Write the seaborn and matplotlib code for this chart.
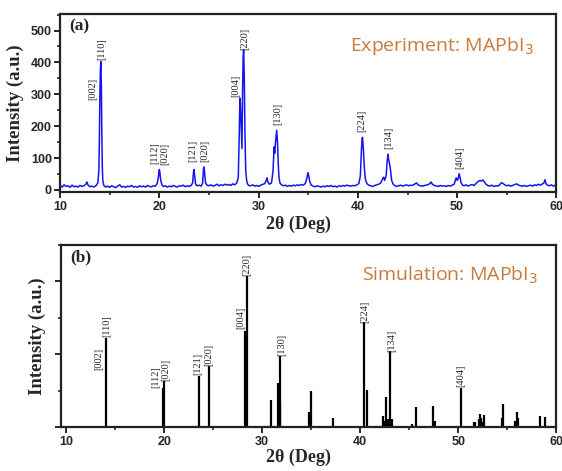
import matplotlib
matplotlib.use("Agg")
import matplotlib.pyplot as plt
import seaborn as sns
import pandas as pd
from matplotlib.ticker import MultipleLocator

exp_2theta = [
    10.0, 10.2, 10.4, 10.6, 10.8, 11.0, 11.2, 11.4, 11.6, 11.8, 12.0, 12.2, 12.4, 12.6, 12.7, 12.8,
    13.0, 13.2, 13.4, 13.6, 13.8, 13.9, 13.95, 14.0, 14.05, 14.1, 14.15, 14.2, 14.25, 14.3, 14.4,
    14.6, 14.8, 15.0, 15.2, 15.4, 15.6, 15.8, 16.0, 16.2, 16.4, 16.6, 16.8, 17.0, 17.2, 17.4, 17.6,
    17.8, 18.0, 18.2, 18.4, 18.6, 18.8, 19.0, 19.2, 19.4, 19.6, 19.8, 19.9, 19.95, 20.0, 20.05, 20.1,
    20.2, 20.3, 20.4, 20.6, 20.8, 21.0, 21.2, 21.4, 21.6, 21.8, 22.0, 22.2, 22.4, 22.6, 22.8, 23.0,
    23.2, 23.35, 23.45, 23.5, 23.55, 23.65, 23.8, 24.0, 24.2, 24.35, 24.45, 24.5, 24.55, 24.65, 24.8,
    25.0, 25.2, 25.4, 25.6, 25.8, 26.0, 26.2, 26.4, 26.6, 26.8, 27.0, 27.2, 27.4, 27.6, 27.8, 27.95,
    28.05, 28.1, 28.13, 28.2, 28.27, 28.32, 28.38, 28.44, 28.49, 28.55, 28.62, 28.7, 28.8, 28.9, 29.0,
    29.2, 29.4, 29.6, 29.8, 30.0, 30.2, 30.4, 30.6, 30.75, 30.84, 30.95, 31.1, 31.3, 31.45, 31.56,
    31.62, 31.7, 31.82, 31.9, 31.98, 32.05, 32.15, 32.3, 32.5, 32.7, 32.9, 33.1, 33.3, 33.5, 33.7,
    33.9, 34.1, 34.3, 34.5, 34.7, 34.85, 34.96, 35.05, 35.15, 35.3, 35.5, 35.7, 35.9, 36.1, 36.3,
    36.5, 36.7, 36.9, 37.1, 37.3, 37.5, 37.7, 37.9, 38.1, 38.3, 38.5, 38.7, 38.9, 39.1, 39.3, 39.5,
    39.7, 39.9, 40.1, 40.25, 40.35, 40.42, 40.47, 40.55, 40.65, 40.75, 40.9, 41.1, 41.3, 41.5, 41.7,
    41.9, 42.1, 42.3, 42.5, 42.6, 42.7, 42.85, 42.95, 43.03, 43.1, 43.2, 43.3, 43.4, 43.55, 43.7,
    43.9, 44.1, 44.3, 44.5, 44.7, 44.9, 45.1, 45.3, 45.5, 45.7, 45.9, 46.1, 46.3, 46.5, 46.7, 46.9,
    47.1, 47.25, 47.37, 47.5, 47.7, 47.9, 48.1, 48.3, 48.5, 48.7, 48.9, 49.1, 49.3, 49.5, 49.7, 49.9,
    50.0, 50.1, 50.2, 50.3, 50.4, 50.55, 50.7, 50.9, 51.1, 51.3, 51.5, 51.7, 51.9, 52.1, 52.3, 52.45,
    52.6, 52.75, 52.9, 53.1, 53.3, 53.5, 53.7, 53.9, 54.1, 54.3, 54.45, 54.6, 54.8, 55.0, 55.2, 55.4,
    55.6, 55.8, 56.0, 56.2, 56.4, 56.6, 56.8, 57.0, 57.2, 57.4, 57.6, 57.8, 58.0, 58.2, 58.4, 58.6,
    58.75, 58.85, 58.95, 59.1, 59.3, 59.5, 59.7, 59.9, 60.0,
]
exp_intensity = [
    14, 9, 16, 11, 13, 8, 15, 10, 12, 9, 14, 11, 13, 18, 25, 16,
    10, 12, 9, 13, 22, 60, 150, 280, 370, 403, 330, 180, 70, 30, 14,
    9, 12, 8, 13, 10, 7, 12, 16, 9, 11, 8, 12, 10, 14, 9, 11,
    8, 13, 10, 12, 9, 14, 11, 10, 13, 12, 22, 40, 58, 64, 55, 38,
    22, 14, 11, 13, 9, 12, 10, 14, 11, 9, 13, 12, 15, 10, 13, 11,
    14, 22, 60, 64, 45, 18, 13, 15, 12, 20, 68, 72, 55, 22, 15,
    13, 16, 12, 14, 18, 13, 16, 14, 18, 15, 17, 14, 19, 16, 22, 40,
    180, 270, 288, 240, 170, 130, 300, 420, 440, 360, 180, 60, 28, 18, 14,
    13, 16, 12, 14, 11, 15, 17, 20, 28, 38, 24, 18, 22, 60, 135,
    115, 150, 187, 150, 80, 40, 22, 16, 13, 15, 11, 14, 12, 15, 13,
    16, 14, 17, 15, 20, 35, 54, 45, 26, 15, 12, 10, 13, 11, 9,
    12, 10, 13, 11, 14, 10, 12, 9, 13, 11, 14, 12, 15, 13, 12, 14,
    13, 16, 20, 45, 120, 160, 165, 130, 70, 35, 20, 15, 13, 11, 14,
    16, 18, 22, 35, 40, 30, 45, 90, 112, 95, 80, 60, 30, 18, 14,
    11, 13, 15, 12, 14, 16, 13, 15, 14, 18, 22, 15, 13, 12, 14, 15,
    17, 20, 25, 18, 14, 13, 11, 14, 12, 13, 11, 14, 12, 15, 18, 38,
    30, 35, 51, 38, 22, 15, 13, 16, 12, 15, 17, 14, 20, 26, 30, 28,
    31, 25, 18, 14, 12, 15, 11, 13, 12, 16, 23, 21, 16, 13, 15, 12,
    14, 17, 19, 15, 13, 12, 14, 11, 13, 15, 12, 16, 14, 18, 15, 19,
    22, 32, 20, 15, 13, 16, 12, 15, 13,
]

# ── Simulated stick pattern (relative intensity, %) ──────────────────────────
sim_2theta = [
    14.10, 19.88, 20.02, 23.53, 24.56, 28.21, 28.47, 30.92, 31.62, 31.80, 31.84,
    34.76, 34.98, 37.25, 40.43, 40.69, 42.37, 42.55, 42.63, 42.85, 43.07, 43.21,
    45.30, 45.73, 47.38, 47.67, 50.23, 51.62, 51.73, 52.06, 52.25, 52.36, 52.50,
    52.61, 54.44, 54.59, 55.79, 55.98, 56.12, 58.28, 58.83,
]
sim_intensity = [
    48.9, 21.4, 25.1, 28.2, 33.7, 52.9, 82.8, 15.0, 24.2, 14.0, 38.8,
    8.6, 19.8, 5.0, 57.5, 20.5, 6.2, 3.5, 16.5, 4.4, 41.6, 4.6,
    1.6, 11.0, 11.7, 3.3, 21.4, 2.6, 2.8, 4.4, 7.1, 5.0, 3.0,
    6.6, 5.0, 12.6, 3.5, 8.2, 5.0, 6.2, 5.5,
]

# ── Miller index labels: (text, 2θ, height) ───────────────────────────────────
hkl_text = ["[002]", "[110]", "[112]", "[020]", "[121]", "[020]",
            "[004]", "[220]", "[130]", "[224]", "[134]", "[404]"]
exp_label_x = [13.33, 14.16, 19.5, 20.56, 23.39, 24.54, 27.73, 28.63, 31.89, 40.39, 43.1, 50.27]
exp_label_y = [317, 443, 114, 114, 121, 121, 328, 474, 239, 218, 163, 101]
sim_label_x = [13.36, 14.2, 19.2, 20.17, 23.46, 24.56, 27.8, 28.47, 31.95, 40.43, 43.2, 50.23]
sim_label_y = [37.3, 55.4, 27.2, 31.3, 34.6, 39.5, 59.8, 88.8, 45.3, 63.3, 47.3, 28.0]

ORANGE = "#C97A3D"

sns.set_style("ticks")
plt.rcParams["font.family"] = ["Liberation Sans", "DejaVu Sans"]

fig = plt.figure(figsize=(5.62, 4.71), dpi=100)
ax_a = fig.add_axes([0.107, 0.592, 0.883, 0.379])
ax_b = fig.add_axes([0.108, 0.093, 0.882, 0.387])

exp_df = pd.DataFrame({"two_theta": exp_2theta, "intensity": exp_intensity})
sns.lineplot(data=exp_df, x="two_theta", y="intensity", ax=ax_a,
             color="#1414F0", linewidth=1.1, sort=False, estimator=None)

ax_b.vlines(sim_2theta, 0, sim_intensity, color="black", linewidth=1.6)

serif = ["Liberation Serif", "DejaVu Serif"]
for t, x, y in zip(hkl_text, exp_label_x, exp_label_y):
    ax_a.text(x, y, t, rotation=90, ha="center", va="center", fontsize=7.5, family=serif)
for t, x, y in zip(hkl_text, sim_label_x, sim_label_y):
    ax_b.text(x, y, t, rotation=90, ha="center", va="center", fontsize=7.5, family=serif)

# ── Axes styling ──────────────────────────────────────────────────────────────
ax_a.set_xlim(10, 60)
ax_a.set_ylim(-7, 553)
ax_a.yaxis.set_major_locator(MultipleLocator(100))
ax_a.yaxis.set_minor_locator(MultipleLocator(50))

ax_b.set_xlim(9.46, 60)
ax_b.set_ylim(0, 100)
ax_b.yaxis.set_major_locator(MultipleLocator(40))
ax_b.yaxis.set_minor_locator(MultipleLocator(20))
ax_b.set_yticklabels([])

for ax in (ax_a, ax_b):
    ax.xaxis.set_major_locator(MultipleLocator(10))
    ax.xaxis.set_minor_locator(MultipleLocator(5))
    for s in ax.spines.values():
        s.set_visible(True)
        s.set_linewidth(1.6)
        s.set_color("#222222")
    ax.tick_params(which="major", direction="out", length=4, width=1.4, labelsize=9,
                   top=False, right=False, pad=2)
    ax.tick_params(which="minor", direction="out", length=2.5, width=1.2,
                   top=False, right=False)
    for lab in ax.get_xticklabels() + ax.get_yticklabels():
        lab.set_fontweight("bold")
    ax.set_xlabel("2θ (Deg)", fontsize=13, fontweight="bold", family=serif)
    ax.set_ylabel("Intensity (a.u.)", fontsize=13.5, fontweight="bold", family=serif)

ax_a.xaxis.set_label_coords(0.48, -0.13)
ax_a.yaxis.set_label_coords(-0.072, 0.5)
ax_b.xaxis.set_label_coords(0.48, -0.12)
ax_b.yaxis.set_label_coords(-0.03, 0.5)

ax_a.text(0.019, 0.93, "(a)", transform=ax_a.transAxes, fontsize=12.5,
          fontweight="bold", family=serif, va="center")
ax_b.text(0.019, 0.93, "(b)", transform=ax_b.transAxes, fontsize=12.5,
          fontweight="bold", family=serif, va="center")

ax_a.text(0.955, 0.82, "Experiment: MAPbI$_3$", transform=ax_a.transAxes, ha="right",
          va="center", fontsize=14, color=ORANGE, family=["Open Sans", "DejaVu Sans"])
ax_b.text(0.963, 0.835, "Simulation: MAPbI$_3$", transform=ax_b.transAxes, ha="right",
          va="center", fontsize=14, color=ORANGE, family=["Open Sans", "DejaVu Sans"])

fig.savefig("out.png", dpi=100)
